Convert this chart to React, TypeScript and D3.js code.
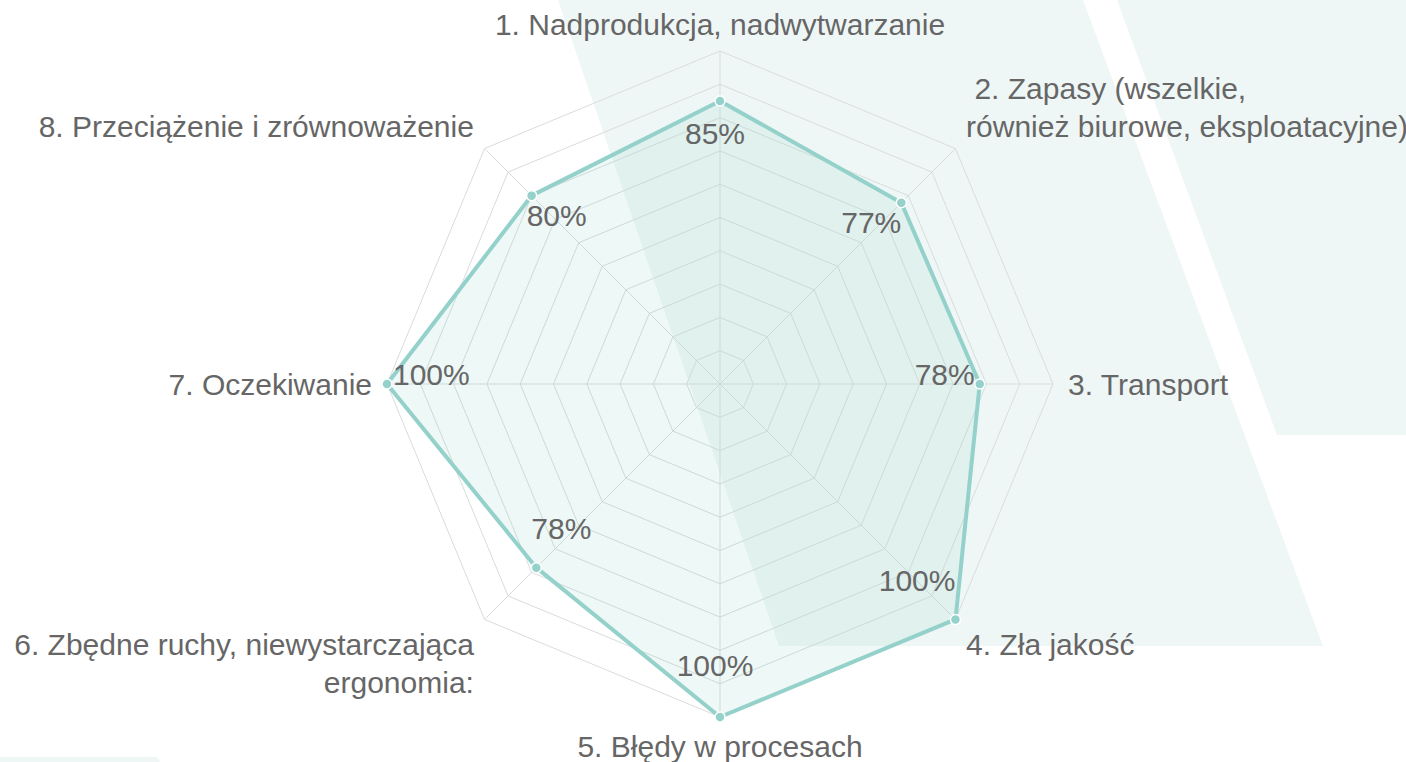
import React from "react";
import * as d3 from "d3";

const categories: string[] = [
  "1. Nadprodukcja, nadwytwarzanie",
  " 2. Zapasy (wszelkie,\nrównież biurowe, eksploatacyjne)",
  "3. Transport",
  "4. Zła jakość",
  "5. Błędy w procesach",
  "6. Zbędne ruchy, niewystarczająca\nergonomia:",
  "7. Oczekiwanie",
  "8. Przeciążenie i zrównoważenie",
];
const values: number[] = [85, 77, 78, 100, 100, 78, 100, 80];
const valueLabels: string[] = values.map((v) => `${v}%`);
const maxValue = 100;
const gridLevels = 10;

const W = 1406;
const H = 762;
const CX = 720;
const CY = 384;
const R = 333;
const NAME_GAP = 15;
const FONT = "'Liberation Sans', Arial, Helvetica, sans-serif";
const TEXT = "#666";
const TEAL = "#94d1ca";
const BG = "#eff7f6";

// decorative background parallelograms
const bgShapes: [number, number][][] = [
  [[558, 0], [1083, 0], [1323, 646], [779, 646]],
  [[1117, 0], [1406, 0], [1406, 435], [1277, 435]],
  [[0, 757], [157, 757], [160, 762], [0, 762]],
];

export default function App() {
  const n = categories.length;
  const r = d3.scaleLinear().domain([0, maxValue]).range([0, R]);
  const angle = d3
    .scaleLinear()
    .domain([0, n])
    .range([0, 2 * Math.PI]);
  const px = (i: number, rad: number) => CX + rad * Math.sin(angle(i));
  const py = (i: number, rad: number) => CY - rad * Math.cos(angle(i));

  const levels = d3.range(1, gridLevels + 1).map((k) => (maxValue * k) / gridLevels);
  const idx = d3.range(n);

  const gridLine = d3
    .lineRadial<number>()
    .angle((i) => angle(i))
    .curve(d3.curveLinearClosed);

  const areaLine = d3
    .lineRadial<number>()
    .angle((_, i) => angle(i))
    .radius((v) => r(v))
    .curve(d3.curveLinearClosed);

  const bgLine = d3.line().curve(d3.curveLinearClosed);

  const eps = 1e-6;

  return (
    <svg
      width={W}
      height={H}
      style={{ position: "absolute", left: 0, top: 0, background: "#fff" }}
      fontFamily={FONT}
    >
      {bgShapes.map((s, k) => (
        <path key={k} d={bgLine(s) || ""} fill={BG} />
      ))}
      <g transform={`translate(${CX},${CY})`}>
        {levels.map((lv) => (
          <path
            key={lv}
            d={gridLine.radius(() => r(lv))(idx) || ""}
            fill="none"
            stroke="#d9dcdc"
            strokeWidth={1}
          />
        ))}
        {idx.map((i) => (
          <line
            key={i}
            x1={0}
            y1={0}
            x2={r(maxValue) * Math.sin(angle(i))}
            y2={-r(maxValue) * Math.cos(angle(i))}
            stroke="#d9dcdc"
            strokeWidth={1}
          />
        ))}
        <path
          d={areaLine(values) || ""}
          fill={TEAL}
          fillOpacity={0.16}
          stroke={TEAL}
          strokeWidth={4}
          strokeLinejoin="round"
        />
      </g>
      {values.map((v, i) => (
        <circle
          key={i}
          cx={px(i, r(v))}
          cy={py(i, r(v))}
          r={5}
          fill={TEAL}
          stroke="#fff"
          strokeWidth={1.5}
        />
      ))}
      {values.map((v, i) => {
        const s = Math.sin(angle(i));
        const c = Math.cos(angle(i));
        const anchor = s > eps ? "end" : s < -eps ? "start" : "middle";
        const diag = Math.abs(c) > eps && Math.abs(s) > eps;
        let dx: number;
        if (s > eps) dx = diag ? 0 : -5;
        else if (s < -eps) dx = diag ? -5 : 6;
        else dx = -5;
        const x = px(i, r(v)) + dx;
        const y = py(i, r(v)) - 10 + 42 * c + 11;
        return (
          <text key={i} x={x} y={y} textAnchor={anchor} fontSize={30} fill={TEXT}>
            {valueLabels[i]}
          </text>
        );
      })}
      {categories.map((cat, i) => {
        const s = Math.sin(angle(i));
        const c = Math.cos(angle(i));
        const rad = r(maxValue) + NAME_GAP;
        const x = px(i, rad);
        const y = py(i, rad);
        const anchor = s > eps ? "start" : s < -eps ? "end" : "middle";
        const lines = cat.split("\n");
        const lh = 38;
        let firstBaseline: number;
        if (c > eps) firstBaseline = y - 1 - (lines.length - 1) * lh;
        else if (c < -eps) firstBaseline = y + 25;
        else firstBaseline = y + 11 - ((lines.length - 1) * lh) / 2;
        return (
          <text
            key={i}
            x={x}
            y={firstBaseline}
            textAnchor={anchor}
            fontSize={30}
            fill={TEXT}
            style={{ whiteSpace: "pre" }}
          >
            {lines.map((ln, j) => (
              <tspan key={j} x={x} y={firstBaseline + j * lh}>
                {ln}
              </tspan>
            ))}
          </text>
        );
      })}
    </svg>
  );
}
